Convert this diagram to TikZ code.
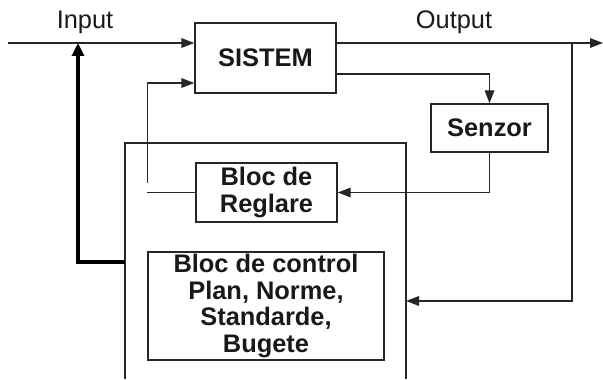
\documentclass[tikz,border=0pt]{standalone}
\usepackage{fontspec}
\setmainfont{Liberation Sans}
\usetikzlibrary{positioning,calc,arrows.meta}

\begin{document}
\begin{tikzpicture}[x=0.5pt, y=-0.5pt, >={Triangle[length=6.5pt,width=4.8pt]}, line width=0.7pt, draw=black!85,
    every node/.style={font=\fontsize{12.7}{13.3}\selectfont, text=black!90},
    block/.style={draw=black!85, inner sep=0pt, align=center, font=\fontsize{12.7}{13.3}\selectfont\bfseries}]
    \useasboundingbox (0,0) rectangle (603,379);
    % Nodes
    \node [block, minimum width=70.5pt, minimum height=35pt] (sistem) at (265.5,58) {SISTEM};
    \node [block, minimum width=58.5pt, minimum height=24pt] (senzor) at (489.5,128) {Senzor};
    \node [block, minimum width=70.5pt, minimum height=29.5pt] (reglare) at (266.5,192.5) {Bloc de\\Reglare};
    \node [block, minimum width=118pt, minimum height=54pt] (control) at (266,306) {Bloc de control\\Plan, Norme,\\Standarde,\\Bugete};
    \node (inlabel) at (85,22) {Input};
    \node (outlabel) at (454,22) {Output};

    % Frame round the control part
    \draw (125,379) -- (125,143) -- (406,143) -- (406,379);
    \coordinate (frameL) at (125,262);
    \coordinate (frameR) at (406,301);
    \coordinate (in) at (8,43);
    \coordinate (out) at (603,43);
    \coordinate (tap) at (572,43);

    % Connections
    \draw [->] (in) -- (in -| sistem.west);
    \draw [->] (sistem.east |- out) -- (out);
    \draw [->] ($(sistem.east)+(0,16)$) -| (senzor.north);
    \draw [->] (tap) |- (frameR);
    \draw [->] (senzor.south) |- (reglare.east);
    \draw (reglare.west) -- ++(-48,0) coordinate (rl);
    \draw [->] ($(rl)+(0,-10)$) |- ($(sistem.west)+(0,25)$);
    \draw [-{Triangle[length=6.5pt,width=6pt]}, line width=1.6pt, draw=black] (frameL) -| ($(in)+(70,0)$);
\end{tikzpicture}
\end{document}
